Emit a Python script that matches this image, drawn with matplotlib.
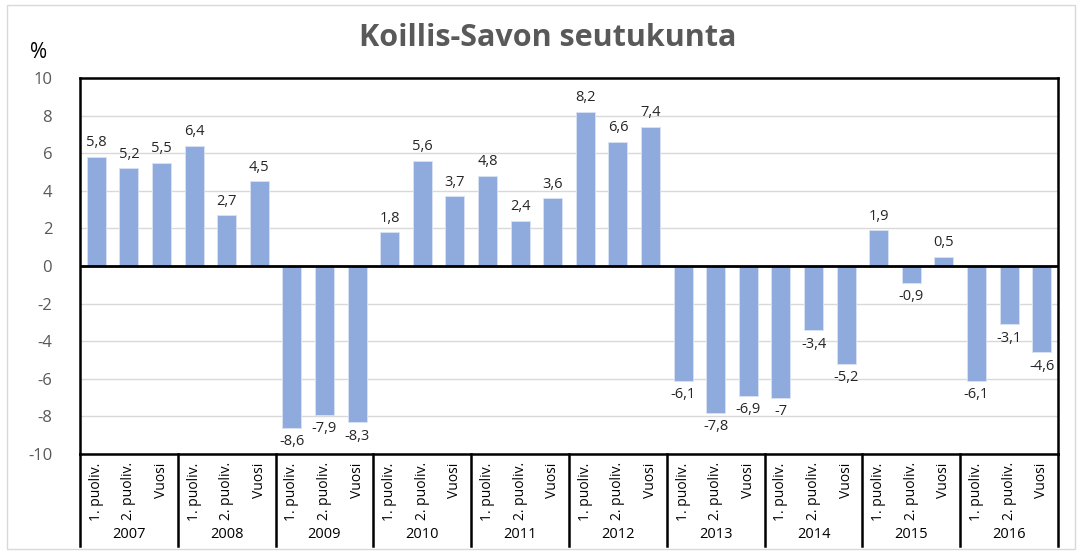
import matplotlib.pyplot as plt
import matplotlib.transforms as mtransforms
from matplotlib.patches import Rectangle

plt.rcParams['font.family'] = ['Open Sans', 'DejaVu Sans']

# data
years = ['2007', '2008', '2009', '2010', '2011', '2012', '2013', '2014', '2015', '2016']
periods = ['1. puoliv.', '2. puoliv.', 'Vuosi']
values = [5.8, 5.2, 5.5,
          6.4, 2.7, 4.5,
          -8.6, -7.9, -8.3,
          1.8, 5.6, 3.7,
          4.8, 2.4, 3.6,
          8.2, 6.6, 7.4,
          -6.1, -7.8, -6.9,
          -7.0, -3.4, -5.2,
          1.9, -0.9, 0.5,
          -6.1, -3.1, -4.6]
yticks = [-10, -8, -6, -4, -2, 0, 2, 4, 6, 8, 10]


def fmt(v):
    s = f'{v:g}'
    return s.replace('.', ',')


fig = plt.figure(figsize=(10.81, 5.54), dpi=100)
ax = fig.add_axes([80 / 1081, 1 - 454 / 554, 978 / 1081, 376 / 554])

xs = list(range(len(values)))
ax.bar(xs, values, width=0.58, color='#8FAADC', edgecolor='#DAE3F3', linewidth=0.6, zorder=3)

# data labels
for x, v in zip(xs, values):
    if v >= 0:
        ax.text(x, v + 0.35, fmt(v), ha='center', va='bottom', fontsize=10.5, color='#262626')
    else:
        ax.text(x, v - 0.35, fmt(v), ha='center', va='top', fontsize=10.5, color='#262626')

ax.set_xlim(-0.5, len(values) - 0.5)
ax.set_ylim(-10, 10)
ax.set_yticks(yticks)
ax.set_yticklabels([str(t) for t in yticks], fontsize=12, color='#595959')
ax.tick_params(axis='y', length=0, pad=20)
ax.set_xticks([])
ax.yaxis.grid(True, color='#D9D9D9', linewidth=1)
ax.set_axisbelow(True)
ax.axhline(0, color='black', linewidth=2, zorder=4)
for sp in ax.spines.values():
    sp.set_linewidth(1.8)
    sp.set_color('black')

# category labels below the axis
trans = mtransforms.blended_transform_factory(ax.transData, ax.transAxes)
for i, x in enumerate(xs):
    ax.text(x, -0.022, periods[i % 3], rotation=90, ha='center', va='top',
            fontsize=10, color='black', transform=trans)
for k, yr in enumerate(years):
    ax.text(3 * k + 1, -0.215, yr, ha='center', va='center', fontsize=10.5,
            color='black', transform=trans)
for k in range(len(years) + 1):
    ax.plot([3 * k - 0.5, 3 * k - 0.5], [0, -0.245], color='black', linewidth=1.8,
            transform=trans, clip_on=False)

fig.text(548 / 1081, 1 - 38 / 554, 'Koillis-Savon seutukunta', fontsize=22,
         fontweight='bold', color='#595959', ha='center', va='center')
fig.text(39 / 1081, 1 - 52 / 554, '%', fontsize=15, color='black', ha='center', va='center')

fig.patches.append(Rectangle((7 / 1081, 5 / 554), 1068 / 1081, 544 / 554, fill=False,
                             edgecolor='#D9D9D9', linewidth=1, transform=fig.transFigure))

fig.savefig('out.png', dpi=100)
